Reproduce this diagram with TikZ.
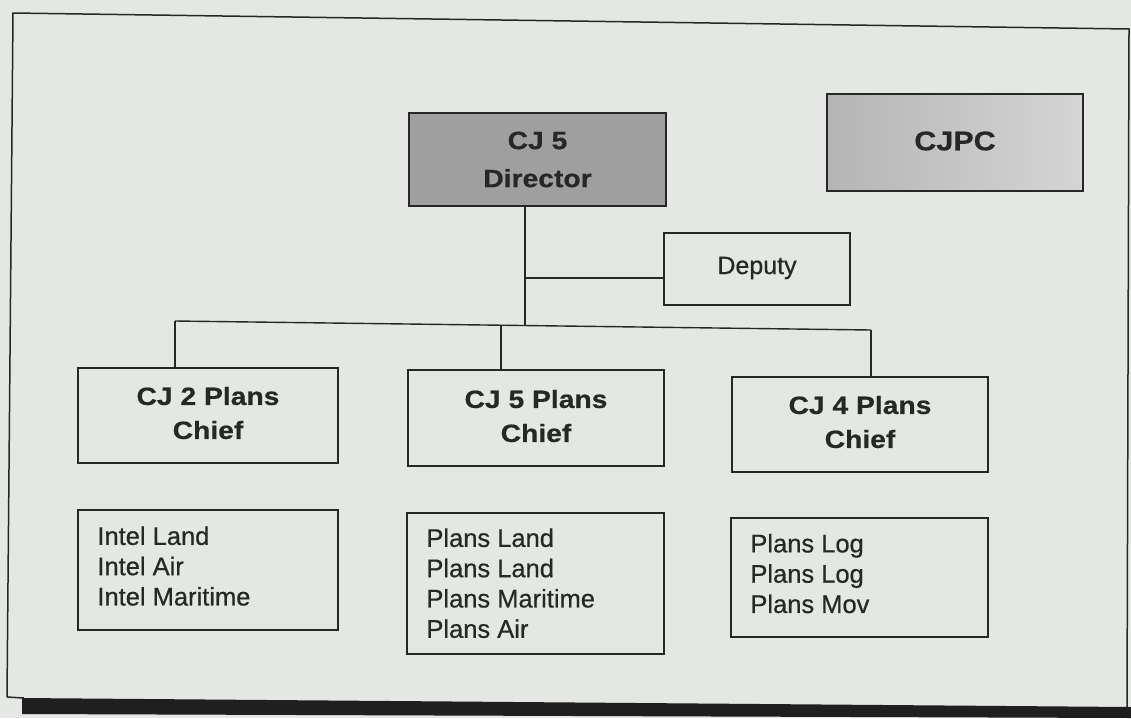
\documentclass[tikz,border=0pt]{standalone}
\usepackage{fontspec}
\setmainfont[FakeBold=0.6]{Liberation Sans}
\newfontfamily\regfont[FakeBold=0.6]{Liberation Sans}
\newfontfamily\hbold[FakeStretch=1.13,FakeBold=0.5]{Liberation Sans Bold}
\usetikzlibrary{calc}
\definecolor{paper}{RGB}{228,231,227}
\definecolor{ink}{RGB}{38,40,38}
\definecolor{dirfill}{RGB}{158,159,158}
\definecolor{pcleft}{RGB}{180,181,180}
\definecolor{pcright}{RGB}{212,213,212}
\definecolor{barcol}{RGB}{30,31,30}
\begin{document}
\begin{tikzpicture}[x=1pt,y=-1pt,
  box/.style={draw=ink,line width=1.6pt,rectangle,inner sep=0pt},
  boldtxt/.style={font=\hbold\fontsize{25}{34}\selectfont,text=ink,align=center,inner sep=0pt},
  listtxt/.style={font=\regfont\fontsize{25.5}{30.3}\selectfont,text=ink,align=left,inner sep=0pt,anchor=north west},
  conn/.style={draw=ink,line width=1.4pt},
  framestyle/.style={draw=ink,line width=1.5pt}]
% page
\fill[paper] (0,0) rectangle (1131,718);
\useasboundingbox (0,0) rectangle (1131,718);
% outer frame
\coordinate (fTL) at (13,13);
\coordinate (fTR) at (1129,29);
\coordinate (fBR) at (1127,707);
\coordinate (fBL) at (7,697);
\draw[framestyle] (fBL) -- (fTL) -- (fTR) -- (fBR);
\draw[framestyle] (fBL) -- (24,698);
\fill[barcol] (22,698) -- (1131,707) -- (1131,718) -- (22,714) -- cycle;
% boxes
\node[box,fill=dirfill,minimum width=257pt,minimum height=93pt] (dir) at (537.5,159.5) {};
\node[boldtxt,font=\hbold\fontsize{25}{38}\selectfont] (dirt) at (537.5,159.5) {CJ 5\\Director};
\node[box,left color=pcleft,right color=pcright,minimum width=256pt,minimum height=97pt] (cjpc) at (955,142.5) {};
\node[boldtxt,font=\hbold\fontsize{27}{32}\selectfont] (cjpct) at (955,141) {CJPC};
\node[box,minimum width=186pt,minimum height=72pt] (dep) at (757,269) {};
\node[font=\regfont\fontsize{25}{30}\selectfont,text=ink,inner sep=0pt] (dept) at (757,268) {Deputy};
\node[box,minimum width=260pt,minimum height=95pt] (cj2) at (208,415.5) {};
\node[boldtxt] (cj2t) at (208,413) {CJ 2 Plans\\Chief};
\node[box,minimum width=256pt,minimum height=96pt] (cj5) at (536,418) {};
\node[boldtxt] (cj5t) at (536,416) {CJ 5 Plans\\Chief};
\node[box,minimum width=256pt,minimum height=95pt] (cj4) at (860,424.5) {};
\node[boldtxt] (cj4t) at (860,422) {CJ 4 Plans\\Chief};
\node[box,minimum width=260pt,minimum height=120pt] (intel) at (208,570) {};
\node[listtxt] (intelt) at ($(intel.north west)+(20,17)$) {Intel Land\\Intel Air\\Intel Maritime};
\node[box,minimum width=257pt,minimum height=141pt] (plans) at (535.5,583.5) {};
\node[listtxt] (planst) at ($(plans.north west)+(20,16)$) {Plans Land\\Plans Land\\Plans Maritime\\Plans Air};
\node[box,minimum width=257pt,minimum height=119pt] (logs) at (859.5,577.5) {};
\node[listtxt] (logst) at ($(logs.north west)+(20,16.5)$) {Plans Log\\Plans Log\\Plans Mov};
% connectors
\coordinate (hL) at (175,321);
\coordinate (hR) at (871,330);
\coordinate (hM) at ($(hL)!0.4684!(hR)$);
\coordinate (hD) at ($(hL)!0.5029!(hR)$);
\coordinate (dj) at (525,278);
\draw[conn] (hL) -- (hR);
\draw[conn] (hL) -- (hL |- cj2.north);
\draw[conn] (hM) -- (hM |- cj5.north);
\draw[conn] (hR) -- (hR |- cj4.north);
\draw[conn] (hD |- dir.south) -- (hD);
\draw[conn] (dj) -- (dj -| dep.west);
\end{tikzpicture}
\end{document}
